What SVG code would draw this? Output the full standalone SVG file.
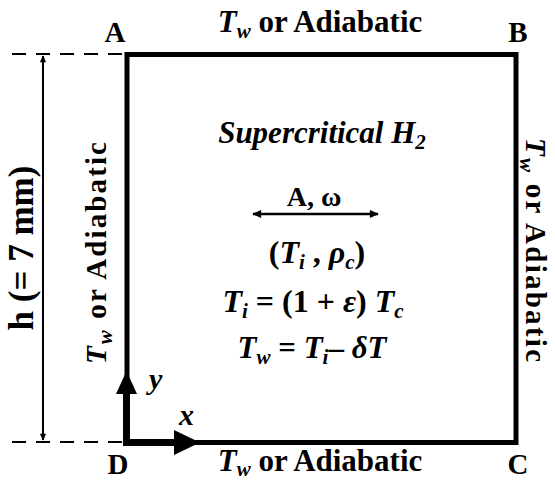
<svg xmlns="http://www.w3.org/2000/svg" width="555" height="481" viewBox="0 0 555 481">
<defs>
<style>
.t{font-family:"Liberation Serif","Times New Roman",serif;font-weight:bold;fill:#000}
.lab{font-size:31px}
.vlab{font-size:29px}
.corner{font-size:29px}
.m{font-style:italic}
.sub{font-size:21px;font-style:italic}
.dash{stroke:#000;stroke-width:2.2;stroke-dasharray:14,10;fill:none}
</style>
<marker id="ah" viewBox="0 0 10 10" refX="9" refY="5" markerWidth="8" markerHeight="7" orient="auto-start-reverse" markerUnits="userSpaceOnUse">
<path d="M0,0.5 L10,5 L0,9.5 z" fill="#000"/>
</marker>
<marker id="ah2" viewBox="0 0 10 10" refX="9" refY="5" markerWidth="11" markerHeight="9" orient="auto-start-reverse" markerUnits="userSpaceOnUse">
<path d="M0,0.5 L10,5 L0,9.5 z" fill="#000"/>
</marker>
</defs>

<g id="domain">
<rect x="127" y="54.5" width="389" height="388" fill="none" stroke="#000" stroke-width="5"/>
</g>

<g id="corner-labels">
<text class="t corner" x="115" y="42" text-anchor="middle">A</text>
<text class="t corner" x="518" y="42" text-anchor="middle">B</text>
<text class="t corner" x="118" y="474" text-anchor="middle">D</text>
<text class="t corner" x="518" y="474" text-anchor="middle">C</text>
</g>

<g id="boundary-labels">
<text class="t lab" x="320" y="32" text-anchor="middle"><tspan class="m">T</tspan><tspan class="sub" dy="6">w</tspan><tspan dy="-6"> or Adiabatic</tspan></text>
<text class="t lab" x="320" y="471" text-anchor="middle"><tspan class="m">T</tspan><tspan class="sub" dy="5">w</tspan><tspan dy="-5"> or Adiabatic</tspan></text>
<text class="t vlab" transform="translate(106,253) rotate(-90)" text-anchor="middle" textLength="222" lengthAdjust="spacing"><tspan class="m">T</tspan><tspan class="sub" dy="6">w</tspan><tspan dy="-6"> or Adiabatic</tspan></text>
<text class="t vlab" transform="translate(526,250) rotate(90)" text-anchor="middle" textLength="224" lengthAdjust="spacing"><tspan class="m">T</tspan><tspan class="sub" dy="6">w</tspan><tspan dy="-6"> or Adiabatic</tspan></text>
</g>

<g id="dimension">
<line class="dash" x1="12" y1="54" x2="125" y2="54"/>
<line class="dash" x1="12" y1="442" x2="125" y2="442"/>
<line x1="43" y1="56" x2="43" y2="440" stroke="#000" stroke-width="2" marker-start="url(#ah)" marker-end="url(#ah)"/>
<text class="t" font-size="35" transform="translate(33,248) rotate(-90)" text-anchor="middle">h (= 7 mm)</text>
</g>

<g id="center-text">
<text class="t m" font-size="31" x="322" y="143" text-anchor="middle">Supercritical H<tspan font-size="21" dy="6">2</tspan></text>
<text class="t" font-size="28" x="314" y="206" text-anchor="middle">A, ω</text>
<line x1="253" y1="214" x2="378" y2="214" stroke="#000" stroke-width="2.4" marker-start="url(#ah2)" marker-end="url(#ah2)"/>
<text class="t" font-size="32" x="317" y="263" text-anchor="middle">(<tspan class="m">T</tspan><tspan class="sub" dy="6">i</tspan><tspan dy="-6"> , </tspan><tspan class="m">ρ</tspan><tspan class="sub" dy="6">c</tspan><tspan dy="-6">)</tspan></text>
<text class="t" font-size="32" x="313" y="312" text-anchor="middle"><tspan class="m">T</tspan><tspan class="sub" dy="6">i</tspan><tspan dy="-6">  = (1 + </tspan><tspan class="m">ε</tspan><tspan>) </tspan><tspan class="m">T</tspan><tspan class="sub" dy="6">c</tspan></text>
<text class="t" font-size="31" x="312" y="358" text-anchor="middle"><tspan class="m">T</tspan><tspan class="sub" dy="6">w</tspan><tspan dy="-6"> = </tspan><tspan class="m">T</tspan><tspan class="sub" dy="6">i</tspan><tspan dy="-6">– </tspan><tspan class="m">δT</tspan></text>
</g>

<g id="axes">
<line x1="126.5" y1="445" x2="126.5" y2="392" stroke="#000" stroke-width="7"/>
<polygon points="116,394 137,394 126.5,371" fill="#000"/>
<line x1="123" y1="442.5" x2="176" y2="442.5" stroke="#000" stroke-width="7"/>
<polygon points="174,430 174,455 200,442.5" fill="#000"/>
<text class="t m" font-size="30" x="149" y="389">y</text>
<text class="t m" font-size="30" x="179" y="425">x</text>
</g>
</svg>
